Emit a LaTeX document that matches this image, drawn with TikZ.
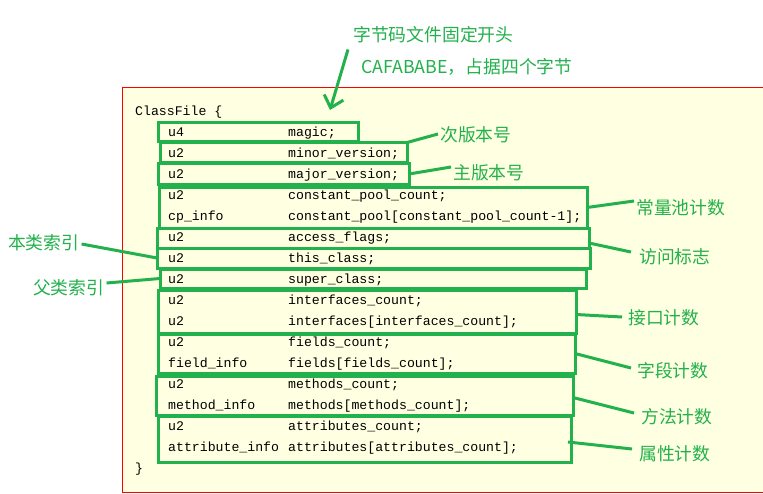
\documentclass[tikz,border=0pt]{standalone}
\usepackage{fontspec}
\setmonofont{Liberation Mono}
\newfontfamily\cjk{Noto Sans CJK SC}
\usetikzlibrary{calc,arrows.meta}
\definecolor{gr}{HTML}{22B14C}
\definecolor{bg}{HTML}{FFFFE1}
\definecolor{redline}{HTML}{FF0000}
\begin{document}
\begin{tikzpicture}[x=1pt,y=-1pt,
  code/.style={anchor=west,inner sep=0pt,font=\ttfamily\fontsize{13.2}{15}\selectfont,text height=9pt,text depth=3pt},
  gbox/.style={draw=gr,line width=3pt,inner sep=0pt,outer sep=0pt},
  lab/.style={anchor=west,inner sep=2pt,text=gr,font=\cjk\fontsize{17.8}{20}\selectfont},
  conn/.style={draw=gr,line width=3pt}
]
\useasboundingbox (0,0) rectangle (763,493);
\fill[white] (0,0) rectangle (763,493);
% frame
\node[draw=redline,fill=bg,line width=1.2pt,minimum width=660pt,minimum height=405pt,inner sep=0pt,anchor=north west] (frame) at (122,87) {};

% code text
\node[code] (c0) at (135,112) {ClassFile \{};
\node[code] (a1) at (168,133) {u4};             \node[code] (b1) at (288,133) {magic;};
\node[code] (a2) at (168,154) {u2};             \node[code] (b2) at (288,154) {minor\_version;};
\node[code] (a3) at (168,175) {u2};             \node[code] (b3) at (288,175) {major\_version;};
\node[code] (a4) at (168,196) {u2};             \node[code] (b4) at (288,196) {constant\_pool\_count;};
\node[code] (a5) at (168,217) {cp\_info};       \node[code] (b5) at (288,217) {constant\_pool[constant\_pool\_count-1];};
\node[code] (a6) at (168,238) {u2};             \node[code] (b6) at (288,238) {access\_flags;};
\node[code] (a7) at (168,259) {u2};             \node[code] (b7) at (288,259) {this\_class;};
\node[code] (a8) at (168,280) {u2};             \node[code] (b8) at (288,280) {super\_class;};
\node[code] (a9) at (168,301) {u2};             \node[code] (b9) at (288,301) {interfaces\_count;};
\node[code] (a10) at (168,322) {u2};            \node[code] (b10) at (288,322) {interfaces[interfaces\_count];};
\node[code] (a11) at (168,343) {u2};            \node[code] (b11) at (288,343) {fields\_count;};
\node[code] (a12) at (168,364) {field\_info};   \node[code] (b12) at (288,364) {fields[fields\_count];};
\node[code] (a13) at (168,385) {u2};            \node[code] (b13) at (288,385) {methods\_count;};
\node[code] (a14) at (168,406) {method\_info};  \node[code] (b14) at (288,406) {methods[methods\_count];};
\node[code] (a15) at (168,427) {u2};            \node[code] (b15) at (288,427) {attributes\_count;};
\node[code] (a16) at (168,448) {attribute\_info};\node[code] (b16) at (288,448) {attributes[attributes\_count];};
\node[code] (c17) at (135,469) {\}};

% green boxes
\node[gbox,minimum width=200pt,minimum height=19pt] (bmagic) at (258.5,132) {};
\node[gbox,minimum width=247pt,minimum height=20pt] (bminor) at (283.5,152.5) {};
\node[gbox,minimum width=251pt,minimum height=21pt] (bmajor) at (283.5,174) {};
\node[gbox,minimum width=428pt,minimum height=41pt] (bcp) at (373,207.5) {};
\node[gbox,minimum width=432pt,minimum height=20pt] (bacc) at (373,238) {};
\node[gbox,minimum width=433pt,minimum height=20pt] (bthis) at (373.5,258) {};
\node[gbox,minimum width=426pt,minimum height=19pt] (bsuper) at (373,278.5) {};
\node[gbox,minimum width=418pt,minimum height=43pt] (bif) at (367,311.5) {};
\node[gbox,minimum width=417pt,minimum height=39pt] (bfld) at (366.5,353.5) {};
\node[gbox,minimum width=417pt,minimum height=39pt] (bmeth) at (364.5,395.5) {};
\node[gbox,minimum width=413pt,minimum height=46pt] (battr) at (364.5,439) {};

% labels
\node[lab] (ltop) at (351,35) {字节码文件固定开头};
\node[lab] (lcafe) at (359,67) {CAFABABE，占据四个字节};
\node[lab] (lminor) at (438,135) {次版本号};
\node[lab] (lmajor) at (451,173) {主版本号};
\node[lab] (lcp) at (634,208) {常量池计数};
\node[lab] (lacc) at (637,257) {访问标志};
\node[lab] (lthis) at (6,243) {本类索引};
\node[lab] (lsuper) at (31,288) {父类索引};
\node[lab] (lif) at (626,318) {接口计数};
\node[lab] (lfld) at (635,371) {字段计数};
\node[lab] (lmeth) at (639,417) {方法计数};
\node[lab] (lattr) at (637,454) {属性计数};

% connectors
\coordinate (magicend) at (330,110);
\draw[conn,-{Straight Barb[length=11pt,width=20pt,line width=3pt]}] ([xshift=-3pt,yshift=-4pt]ltop.south west) -- (magicend);
\draw[conn] (bminor.north east) -- ([yshift=1pt]lminor.west);
\draw[conn] (bmajor.east) -- ([yshift=6pt]lmajor.west);
\draw[conn] (bcp.east) -- ([yshift=7pt]lcp.west);
\draw[conn] ($(bacc.east)!0.5!(bacc.south east)$) -- ([yshift=5pt,xshift=-6pt]lacc.west);
\draw[conn] ([yshift=-1pt]lthis.east) -- (bthis.west);
\draw[conn] ([yshift=5pt]lsuper.east) -- (bsuper.west);
\draw[conn] ([yshift=-3pt]bif.east) -- ([xshift=-4pt,yshift=1pt]lif.west);
\draw[conn] (bfld.east) -- ([xshift=-4pt,yshift=3pt]lfld.west);
\draw[conn] ([yshift=-2pt]bmeth.east) -- ([xshift=-5pt,yshift=4pt]lmeth.west);
\draw[conn] ([yshift=-3pt,xshift=-3pt]battr.east) -- ([xshift=-5pt,yshift=5pt]lattr.west);
\end{tikzpicture}
\end{document}
